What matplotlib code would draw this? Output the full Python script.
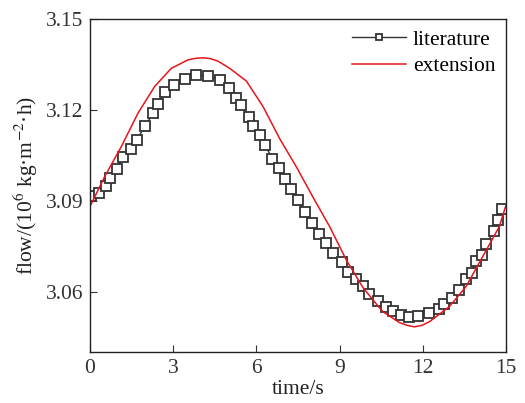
import numpy as np
import matplotlib
matplotlib.use("Agg")
import matplotlib.pyplot as plt

# literature data (digitised markers)
lit_t = [0.04, 0.34, 0.57, 0.73, 0.96, 1.19, 1.47, 1.69, 1.99, 2.29, 2.46, 2.70,
         3.04, 3.42, 3.82, 4.27, 4.67, 5.03, 5.26, 5.46, 5.72, 5.87, 6.12, 6.30,
         6.58, 6.80, 7.03, 7.24, 7.51, 7.75, 7.99, 8.24, 8.52, 8.78, 9.07, 9.30,
         9.58, 9.85, 10.05, 10.38, 10.66, 10.92, 11.20, 11.49, 11.84, 12.23, 12.57,
         12.78, 13.06, 13.29, 13.56, 13.76, 13.91, 14.14, 14.28, 14.57, 14.71, 14.86]
lit_q = [3.0916, 3.0927, 3.0950, 3.0975, 3.1006, 3.1044, 3.1071, 3.1101, 3.1148,
         3.1189, 3.1219, 3.1258, 3.1281, 3.1302, 3.1315, 3.1312, 3.1298, 3.1271,
         3.1240, 3.1216, 3.1177, 3.1148, 3.1117, 3.1085, 3.1039, 3.1007, 3.0973,
         3.0940, 3.0902, 3.0862, 3.0827, 3.0791, 3.0761, 3.0729, 3.0698, 3.0665,
         3.0641, 3.0619, 3.0592, 3.0569, 3.0549, 3.0535, 3.0523, 3.0517, 3.0519,
         3.0529, 3.0542, 3.0560, 3.0580, 3.0606, 3.0643, 3.0661, 3.0702, 3.0721,
         3.0757, 3.0801, 3.0838, 3.0872]

# extension curve
ext_t = [0.0, 0.53, 1.13, 1.73, 2.33, 2.93, 3.53, 3.80, 4.07, 4.35, 4.61, 5.04,
         5.64, 6.24, 6.84, 7.44, 8.04, 8.64, 9.24, 9.84, 10.32, 10.56, 11.16,
         11.43, 11.70, 11.97, 12.24, 12.96, 13.56, 14.16, 14.76, 15.0]
ext_q = [3.0881, 3.0980, 3.1079, 3.1189, 3.1277, 3.1337, 3.1365, 3.1370, 3.1372,
         3.1369, 3.1361, 3.1337, 3.1295, 3.1211, 3.1105, 3.1012, 3.0912, 3.0815,
         3.0705, 3.0614, 3.0560, 3.0534, 3.0498, 3.0489, 3.0484, 3.0489, 3.0501,
         3.0551, 3.0617, 3.0716, 3.0815, 3.0886]

plt.rcParams['font.family'] = 'Liberation Serif'
plt.rcParams['mathtext.fontset'] = 'stix'

fig = plt.figure(figsize=(5.25, 4.03), dpi=100)
ax = fig.add_axes([0.1714, 0.1258, 0.7924, 0.8271])

ax.plot(lit_t, lit_q, color='#333333', lw=1.0, marker='s', ms=6.5,
        mfc='white', mec='#333333', mew=1.3, label='literature')
ax.plot(ext_t, ext_q, color='#e8141c', lw=1.1, label='extension')

ax.set_xlim(0, 15)
ax.set_ylim(3.04, 3.15)
ax.set_xticks([0, 3, 6, 9, 12, 15])
ax.set_yticks([3.06, 3.09, 3.12, 3.15])
ax.set_yticklabels(['3.06', '3.09', '3.12', '3.15'])
ax.tick_params(direction='in', length=5, labelsize=15.5, colors='#333333', pad=5)
for s in ax.spines.values():
    s.set_color('#222222')
    s.set_linewidth(1.0)

ax.set_xlabel('time/s', fontsize=15.5, labelpad=1, color='#222222')
ax.set_ylabel('flow/(10$^{6}$ kg·m$^{-2}$·h)', fontsize=15.5, labelpad=4, color='#222222')

ax.legend(loc='upper right', frameon=False, fontsize=15.5, handlelength=2.5,
          handletextpad=0.33, borderaxespad=0.1, labelspacing=0.3, markerscale=0.75)

fig.savefig('out.png', dpi=100)
